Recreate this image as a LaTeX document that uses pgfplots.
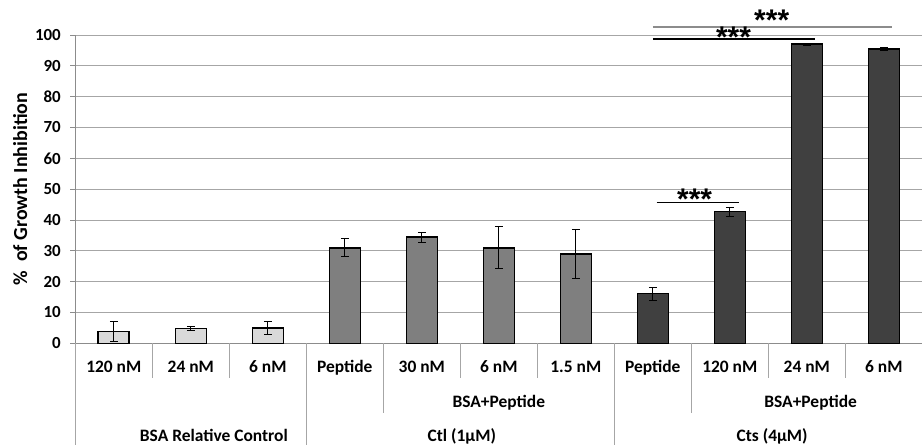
\documentclass[border=0pt]{standalone}
\usepackage{pgfplots}
\pgfplotsset{compat=1.18}
\usepackage{pgfplotstable}
\usepackage{fontspec}
\setmainfont{Carlito}
\newfontfamily\starfont{Liberation Sans}

\definecolor{barlight}{HTML}{D9D9D9}
\definecolor{barmid}{HTML}{7F7F7F}
\definecolor{bardark}{HTML}{404040}
\definecolor{gridc}{HTML}{A6A6A6}
\definecolor{axisc}{HTML}{8C8C8C}

\pgfplotstableread{
x y e
0 3.8 3.2
1 4.8 0.8
2 5.0 2.0
}\bsa
\pgfplotstableread{
x y e
3 31.0 2.9
4 34.4 1.7
5 31.0 6.8
6 29.0 8.0
}\ctl
\pgfplotstableread{
x y e
7 16.1 2.1
8 42.7 1.5
9 97.0 0.3
10 95.5 0.4
}\cts

\tikzset{catlab/.style={anchor=base, font=\fontsize{17.5}{17.5}\selectfont\bfseries, inner sep=0pt},
  stars/.style={anchor=base, inner sep=0pt, font=\starfont\fontsize{30}{30}\selectfont\bfseries}}

\begin{document}
\begin{tikzpicture}
\useasboundingbox (-75.3bp,-101.7bp) rectangle (847.7bp,343.3bp);
\begin{axis}[
  at={(0,0)}, anchor=south west,
  scale only axis, width=847bp, height=308.3bp,
  xmin=-0.5, xmax=10.5, ymin=0, ymax=100,
  ytick={0,10,...,100}, xtick=\empty,
  axis lines=left, axis line style={-, draw=axisc, line width=0.8bp},
  ymajorgrids, grid style={draw=gridc, line width=0.8bp},
  tick align=outside, major tick length=5bp,
  ytick style={draw=axisc, line width=0.8bp},
  /pgf/number format/assume math mode=true,
  yticklabel style={font=\fontsize{17}{17}\selectfont\bfseries, xshift=-6bp},
  ybar, bar width=31bp, bar shift=0pt,
  clip=false,
]
\addplot[fill=barlight, draw=black, line width=1.6bp, bar shift=0pt,
  error bars/.cd, y dir=both, y explicit,
  error bar style={black, line width=1bp},
  error mark options={rotate=90, black, mark size=4bp, line width=1bp}]
  table[x=x, y=y, y error=e] {\bsa};
\addplot[fill=barmid, draw=black, line width=1.6bp, bar shift=0pt,
  error bars/.cd, y dir=both, y explicit,
  error bar style={black, line width=1bp},
  error mark options={rotate=90, black, mark size=4bp, line width=1bp}]
  table[x=x, y=y, y error=e] {\ctl};
\addplot[fill=bardark, draw=black, line width=1.6bp, bar shift=0pt,
  error bars/.cd, y dir=both, y explicit,
  error bar style={black, line width=1bp},
  error mark options={rotate=90, black, mark size=4bp, line width=1bp}]
  table[x=x, y=y, y error=e] {\cts};

% separators
\pgfplotsinvokeforeach{0.5,1.5,4.5,5.5,8.5,9.5}{
  \draw[gridc, line width=0.8bp] (axis cs:#1,0) -- ([yshift=-34.7bp]axis cs:#1,0);
}
\pgfplotsinvokeforeach{3.5,7.5}{
  \draw[gridc, line width=0.8bp] (axis cs:#1,0) -- ([yshift=-69.7bp]axis cs:#1,0);
}
\pgfplotsinvokeforeach{-0.5,2.5,6.5}{
  \draw[gridc, line width=0.8bp] (axis cs:#1,0) -- ([yshift=-102bp]axis cs:#1,0);
}

% category labels
\node[catlab] at ([yshift=-29bp]axis cs:0,0) {120 nM};
\node[catlab] at ([yshift=-29bp]axis cs:1,0) {24 nM};
\node[catlab] at ([yshift=-29bp]axis cs:2,0) {6 nM};
\node[catlab] at ([yshift=-29bp]axis cs:3,0) {Peptide};
\node[catlab] at ([yshift=-29bp]axis cs:4,0) {30 nM};
\node[catlab] at ([yshift=-29bp]axis cs:5,0) {6 nM};
\node[catlab] at ([yshift=-29bp]axis cs:6,0) {1.5 nM};
\node[catlab] at ([yshift=-29bp]axis cs:7,0) {Peptide};
\node[catlab] at ([yshift=-29bp]axis cs:8,0) {120 nM};
\node[catlab] at ([yshift=-29bp]axis cs:9,0) {24 nM};
\node[catlab] at ([yshift=-29bp]axis cs:10,0) {6 nM};
\node[catlab] at ([yshift=-64bp]axis cs:5,0) {BSA+Peptide};
\node[catlab] at ([yshift=-64bp]axis cs:9.05,0) {BSA+Peptide};
\node[catlab] at ([yshift=-98.4bp]axis cs:1.30,0) {BSA Relative Control};
\node[catlab] at ([yshift=-98.4bp]axis cs:4.52,0) {Ctl (1µM)};
\node[catlab] at ([yshift=-98.4bp]axis cs:8.55,0) {Cts (4µM)};

% y label
\node[rotate=90, anchor=center, font=\fontsize{20}{20}\selectfont\bfseries]
  at ([xshift=-55bp]rel axis cs:0,0.5) {\%\ \ of Growth Inhibition};

% significance
\draw[black, line width=1.2bp] (axis cs:7.05,45.6) -- (axis cs:8.12,45.6);
\draw[black, line width=1.2bp] (axis cs:7.0,98.7) -- (axis cs:9.11,98.7);
\draw[axisc, line width=1.2bp] (axis cs:7.0,102.6) -- (axis cs:10.11,102.6);
\node[stars] at ([yshift=-6.8bp]axis cs:7.544,45.6) {***};
\node[stars] at ([yshift=-8bp]axis cs:8.048,98.7) {***};
\node[stars] at ([yshift=-3.6bp]axis cs:8.544,102.6) {***};
\end{axis}
\end{tikzpicture}
\end{document}
